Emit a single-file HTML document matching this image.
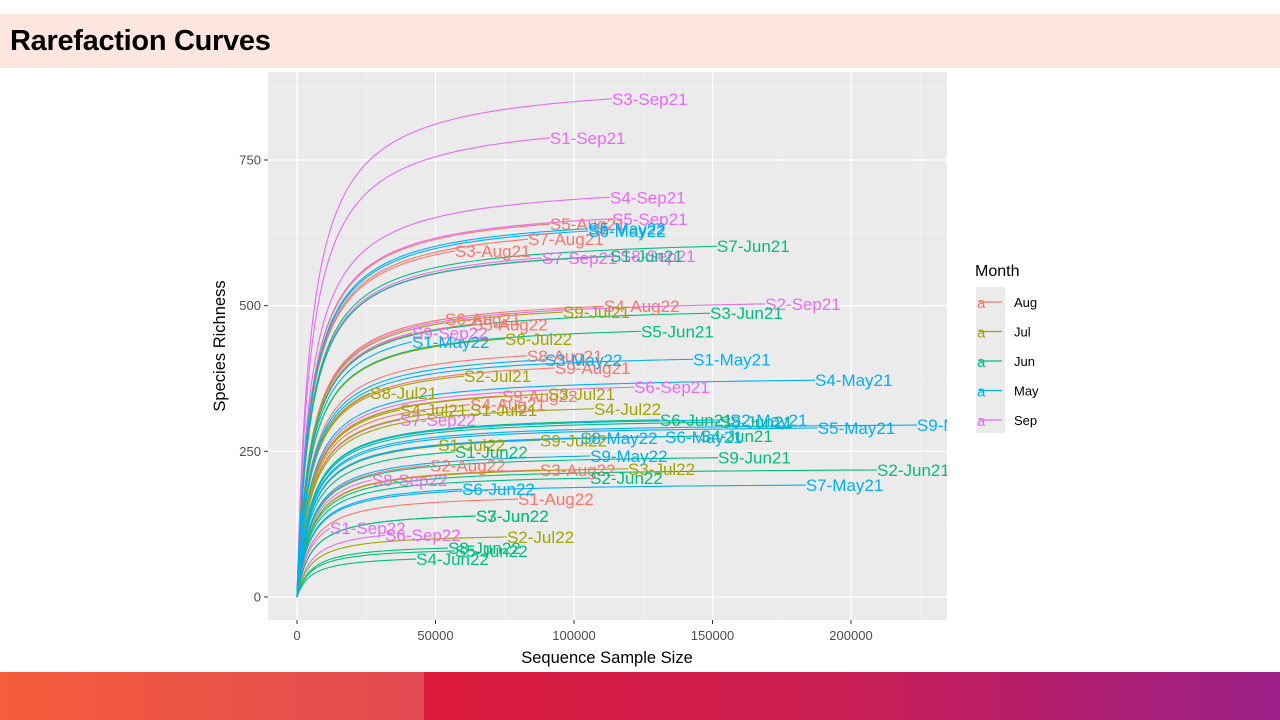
<!DOCTYPE html>
<html><head><meta charset="utf-8">
<style>
body{margin:0;width:1280px;height:720px;overflow:hidden;background:#fff;font-family:"Liberation Sans",sans-serif;position:relative}
#titlebar{position:absolute;left:0;top:14px;width:1280px;height:54px;background:#fde5e0}
#title{position:absolute;left:10px;top:25px;font-size:29px;font-weight:bold;color:#000;font-family:"Liberation Sans",sans-serif;letter-spacing:-0.3px}
#barL{position:absolute;left:0;top:672px;width:424px;height:48px;background:linear-gradient(90deg,#f65d3b,#e04a52)}
#barR{position:absolute;left:424px;top:672px;width:856px;height:48px;background:linear-gradient(90deg,#dc1a3a,#c91e55 50%,#9b1f88)}
svg{position:absolute;left:0;top:0}
</style></head><body>
<div id="titlebar"></div>
<div id="title">Rarefaction Curves</div>
<div id="barL"></div>
<div id="barR"></div>
<svg id="chart" width="1280" height="720"></svg>
<script>
const labels=["S3-Sep21","S1-Sep21","S4-Sep21","S5-Sep21","S2-Sep21","S7-Sep21","S8-Sep21","S6-Sep21","S9-Sep22","S1-Sep22","S6-Sep22","S8-Sep22","S7-Sep22",
"S5-Aug21","S7-Aug21","S3-Aug21","S4-Aug22","S6-Aug21","S5-Aug22","S8-Aug21","S9-Aug21","S9-Aug22","S4-Aug21","S1-Aug22","S3-Aug22","S2-Aug22",
"S9-Jul21","S6-Jul22","S2-Jul21","S8-Jul21","S3-Jul21","S4-Jul22","S1-Jul21","S3-Jul22","S2-Jul22","S9-Jul22","S4-Jul21","S1-Jul22",
"S7-Jun21","S1-Jun21","S3-Jun21","S5-Jun21","S6-Jun21","S8-Jun21","S4-Jun21","S9-Jun21","S2-Jun21","S2-Jun22","S7-Jun22","S3-Jun22","S8-Jun22","S5-Jun22","S4-Jun22","S1-Jun22",
"S5-May22","S6-May22","S3-May22","S1-May21","S4-May21","S1-May22","S9-May21","S5-May21","S6-May21","S8-May22","S9-May22","S7-May21","S6-Jun22","S2-May21"];
const months=["Sep","Sep","Sep","Sep","Sep","Sep","Sep","Sep","Sep","Sep","Sep","Sep","Sep",
"Aug","Aug","Aug","Aug","Aug","Aug","Aug","Aug","Aug","Aug","Aug","Aug","Aug",
"Jul","Jul","Jul","Jul","Jul","Jul","Jul","Jul","Jul","Jul","Jul","Jul",
"Jun","Jun","Jun","Jun","Jun","Jun","Jun","Jun","Jun","Jun","Jun","Jun","Jun","Jun","Jun","Jun",
"May","May","May","May","May","May","May","May","May","May","May","May","May","May"];
const depths=[113700,91300,113000,113700,169000,88400,116600,121700,41500,11900,31800,27000,37200,
91300,83400,57000,110800,53400,63200,83000,93100,74000,62500,79800,87700,48000,
96000,75100,60300,26400,90600,107200,62500,119500,75800,87700,37200,51000,
151600,113000,149100,124200,131000,152700,145500,152000,209400,105800,64600,64600,54500,57000,43000,57000,
105100,105100,89500,143000,187000,41500,223800,188000,132900,102200,105800,183700,59600,156300];
const richness=[855,788,686,649,503,582,585,360,453,118,106,201,304,
640,614,594,499,477,468,414,393,345,330,168,218,226,
489,443,379,350,348,323,321,220,103,269,321,261,
602,585,487,456,304,300,276,239,218,204,139,139,84,79,65,249,
632,628,407,408,372,438,295,290,275,273,242,192,185,304];
const xTicks=[0,50000,100000,150000,200000];
const xTickLabels=["0","50000","100000","150000","200000"];
const yTicks=[0,250,500,750];
const yTickLabels=["0","250","500","750"];
const monthNames=["Aug","Jul","Jun","May","Sep"];
const monthColors=["#F8766D","#A3A500","#00BF7D","#00B0F6","#E76BF3"];

const NS="http://www.w3.org/2000/svg";
const svg=document.getElementById('chart');
const P={l:268,r:947,t:72,b:620};
const X=v=>297+v*(138.5/50000);
const Y=v=>597-v*0.5827;
function mk(tag,attrs,parent){const e=document.createElementNS(NS,tag);for(const k in attrs)e.setAttribute(k,attrs[k]);(parent||svg).appendChild(e);return e;}
const defs=mk('defs',{});
const cp=mk('clipPath',{id:'pc'},defs);mk('rect',{x:P.l,y:P.t,width:P.r-P.l,height:P.b-P.t},cp);
const panel=mk('rect',{x:P.l,y:P.t,width:P.r-P.l,height:P.b-P.t,fill:'#EBEBEB'});


for(let i=0;i<xTicks.length;i++){const v=xTicks[i]+25000;if(X(v)<P.r){const l=mk('line',{x1:X(v),x2:X(v),y1:P.t,y2:P.b,stroke:'#f5f5f5','stroke-width':0.6});}}
for(let i=0;i<yTicks.length;i++){const v=yTicks[i]+125;if(Y(v)>P.t){const l=mk('line',{x1:P.l,x2:P.r,y1:Y(v),y2:Y(v),stroke:'#f5f5f5','stroke-width':0.6});}}
for(let i=0;i<xTicks.length;i++){const x=X(xTicks[i]);
 const g=mk('line',{x1:x,x2:x,y1:P.t,y2:P.b,stroke:'#fff','stroke-width':1.2});
 const tk=mk('line',{x1:x,x2:x,y1:P.b,y2:P.b+4,stroke:'#333','stroke-width':1});
 const t=mk('text',{x:x,y:P.b+20,'text-anchor':'middle','font-size':13,fill:'#4d4d4d'});t.textContent=xTickLabels[i];}
for(let i=0;i<yTicks.length;i++){const y=Y(yTicks[i]);
 const g=mk('line',{x1:P.l,x2:P.r,y1:y,y2:y,stroke:'#fff','stroke-width':1.2});
 const tk=mk('line',{x1:P.l-4,x2:P.l,y1:y,y2:y,stroke:'#333','stroke-width':1});
 const t=mk('text',{x:P.l-7,y:y+4.5,'text-anchor':'end','font-size':13,fill:'#4d4d4d'});t.textContent=yTickLabels[i];}
const gC=mk('g',{'clip-path':'url(#pc)'});


const gL=mk('g',{'clip-path':'url(#pc)'});


const B=5000;
for(let i=0;i<labels.length;i++){
 const col=monthColors[monthNames.indexOf(months[i])];
 const N=depths[i],S=richness[i];let d='';
 for(let k=0;k<=80;k++){const n=N*Math.pow(k/80,2.2);const s=S*(n/(n+B))*((N+B)/N);d+=(k?'L':'M')+X(n).toFixed(1)+','+Y(s).toFixed(1);}
 const p=mk('path',{d:d,fill:'none',stroke:col,'stroke-width':1.1},gC);
 
 
 const t=mk('text',{x:X(N),y:Y(S)+6,'font-size':17,fill:col},gL);t.textContent=labels[i];
 
 
}
const xt=mk('text',{x:607,y:663,'text-anchor':'middle','font-size':16.5,fill:'#000'});xt.textContent='Sequence Sample Size';


const yt=mk('text',{x:225,y:346,'text-anchor':'middle','font-size':16.5,fill:'#000',transform:'rotate(-90 225 346)'});yt.textContent='Species Richness';


const lt=mk('text',{x:975,y:276,'font-size':16,fill:'#000'});lt.textContent='Month';


const kb=mk('rect',{x:976,y:287,width:29,height:146,fill:'#EBEBEB'});


for(let i=0;i<monthNames.length;i++){const cy=302+i*29.5;
 const g=mk('g',{});
 mk('line',{x1:979,x2:1002,y1:cy,y2:cy,stroke:monthColors[i],'stroke-width':1.2},g);
 const a=mk('text',{x:977,y:cy+6,'font-size':15,fill:monthColors[i]},g);a.textContent='a';
 const t=mk('text',{x:1014,y:cy+5,'font-size':13,fill:'#000'},g);t.textContent=monthNames[i];}
</script>
</body></html>
